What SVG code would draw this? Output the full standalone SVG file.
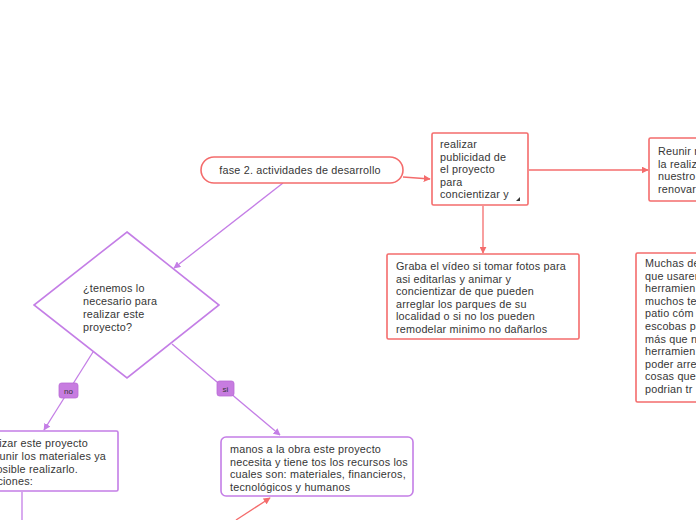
<svg xmlns="http://www.w3.org/2000/svg" width="696" height="520" viewBox="0 0 696 520">
<defs>
<style>
.t{font-family:"Liberation Sans",Arial,sans-serif;font-size:10.8px;letter-spacing:0.2px;fill:#363636}
.red{fill:#fff;stroke:#f46c6c;stroke-width:1.6}
.pur{fill:#fff;stroke:#c47ee6;stroke-width:1.6}
.cr{fill:none;stroke:#f46c6c;stroke-width:1.3}
.cp{fill:none;stroke:#c47ee6;stroke-width:1.3}
.lab{fill:#c77ce0;stroke:#b96ad6;stroke-width:0.8}
.lt{font-family:"Liberation Sans",Arial,sans-serif;font-size:8px;fill:#363636;text-anchor:middle}
</style>
<marker id="ar" viewBox="0 0 10 10" refX="9" refY="5" markerWidth="7" markerHeight="7" orient="auto" markerUnits="userSpaceOnUse"><path d="M0,0 L10,5 L0,10 z" fill="#f46c6c"/></marker>
<marker id="ap" viewBox="0 0 10 10" refX="9" refY="5" markerWidth="7" markerHeight="7" orient="auto" markerUnits="userSpaceOnUse"><path d="M0,0 L10,5 L0,10 z" fill="#c47ee6"/></marker>
</defs>
<rect width="696" height="520" fill="#fff"/>
<g id="connectors">
<path class="cr" d="M403,177 L430,179" marker-end="url(#ar)"/>
<path class="cr" d="M529,170 L648,170" marker-end="url(#ar)"/>
<path class="cr" d="M483,206 L483,253" marker-end="url(#ar)"/>
<path class="cp" d="M283,183 L174,268" marker-end="url(#ap)"/>
<path class="cp" d="M93,352 L44,430" marker-end="url(#ap)"/>
<path class="cp" d="M172,344 L280,435" marker-end="url(#ap)"/>
<path class="cp" d="M22,492 L22,520"/>
<path class="cr" d="M236,520 L270,498" marker-end="url(#ar)"/>
</g>
<g id="label-no"><rect class="lab" x="59" y="383" width="19" height="15" rx="2.5"/><text class="lt" x="68.5" y="393.5">no</text></g>
<g id="label-si"><rect class="lab" x="217" y="381" width="17" height="15" rx="2.5"/><text class="lt" x="225.5" y="391.5">si</text></g>
<g id="fase">
<rect class="red" x="201" y="157" width="202" height="26" rx="13"/>
<text class="t" x="300" y="174" text-anchor="middle">fase 2. actividades de desarrollo</text>
</g>
<g id="realizar">
<rect class="red" x="432" y="133" width="96" height="72" rx="1.5"/>
<text class="t"><tspan x="440" y="148">realizar</tspan><tspan x="440" y="160.5">publicidad de</tspan><tspan x="440" y="173">el proyecto</tspan><tspan x="440" y="185.5">para</tspan><tspan x="440" y="198">concientizar y</tspan></text>
<path d="M520,197 L520,201 L516,201 z" fill="#363636"/>
</g>
<g id="reunir">
<rect class="red" x="649" y="138" width="60" height="63" rx="1.5"/>
<text class="t"><tspan x="658" y="155">Reunir m</tspan><tspan x="658" y="167.5">la realiz</tspan><tspan x="658" y="180">nuestro</tspan><tspan x="658" y="192.5">renovar</tspan></text>
</g>
<g id="graba">
<rect class="red" x="387" y="254" width="192" height="85" rx="1.5"/>
<text class="t"><tspan x="396" y="270">Graba el vídeo si tomar fotos para</tspan><tspan x="396" y="282.5">asi editarlas y animar y</tspan><tspan x="396" y="295">concientizar de que pueden</tspan><tspan x="396" y="307.5">arreglar los parques de su</tspan><tspan x="396" y="320">localidad o si no los pueden</tspan><tspan x="396" y="332.5">remodelar minimo no dañarlos</tspan></text>
</g>
<g id="muchas">
<rect class="red" x="636" y="253" width="70" height="149" rx="1.5"/>
<text class="t"><tspan x="645" y="267">Muchas de</tspan><tspan x="645" y="279.6">que usaren</tspan><tspan x="645" y="292.2">herramien</tspan><tspan x="645" y="304.8">muchos te</tspan><tspan x="645" y="317.4">patio cóm</tspan><tspan x="645" y="330">escobas p</tspan><tspan x="645" y="342.6">más que n</tspan><tspan x="645" y="355.2">herramien</tspan><tspan x="645" y="367.8">poder arre</tspan><tspan x="645" y="380.4">cosas que</tspan><tspan x="645" y="393">podrian tr</tspan></text>
</g>
<g id="decision">
<path class="pur" d="M127,232 L219,305 L127,378 L34,305 z"/>
<text class="t"><tspan x="83" y="292">¿tenemos lo</tspan><tspan x="83" y="305">necesario para</tspan><tspan x="83" y="318">realizar este</tspan><tspan x="83" y="331">proyecto?</tspan></text>
</g>
<g id="no-box">
<rect class="pur" x="-20" y="431" width="138" height="60" rx="1.5"/>
<text class="t" text-anchor="end"><tspan x="88" y="447">lizar este proyecto</tspan><tspan x="106" y="460">unir los materiales ya</tspan><tspan x="78" y="472.5">osible realizarlo.</tspan><tspan x="33" y="485">ciones:</tspan></text>
</g>
<g id="manos">
<rect class="pur" x="221" y="437" width="192" height="59" rx="5"/>
<text class="t"><tspan x="230" y="452.5">manos a la obra este proyecto</tspan><tspan x="230" y="465.5">necesita y tiene tos los recursos los</tspan><tspan x="230" y="478">cuales son: materiales, financieros,</tspan><tspan x="230" y="490.5">tecnológicos y humanos</tspan></text>
</g>
</svg>
